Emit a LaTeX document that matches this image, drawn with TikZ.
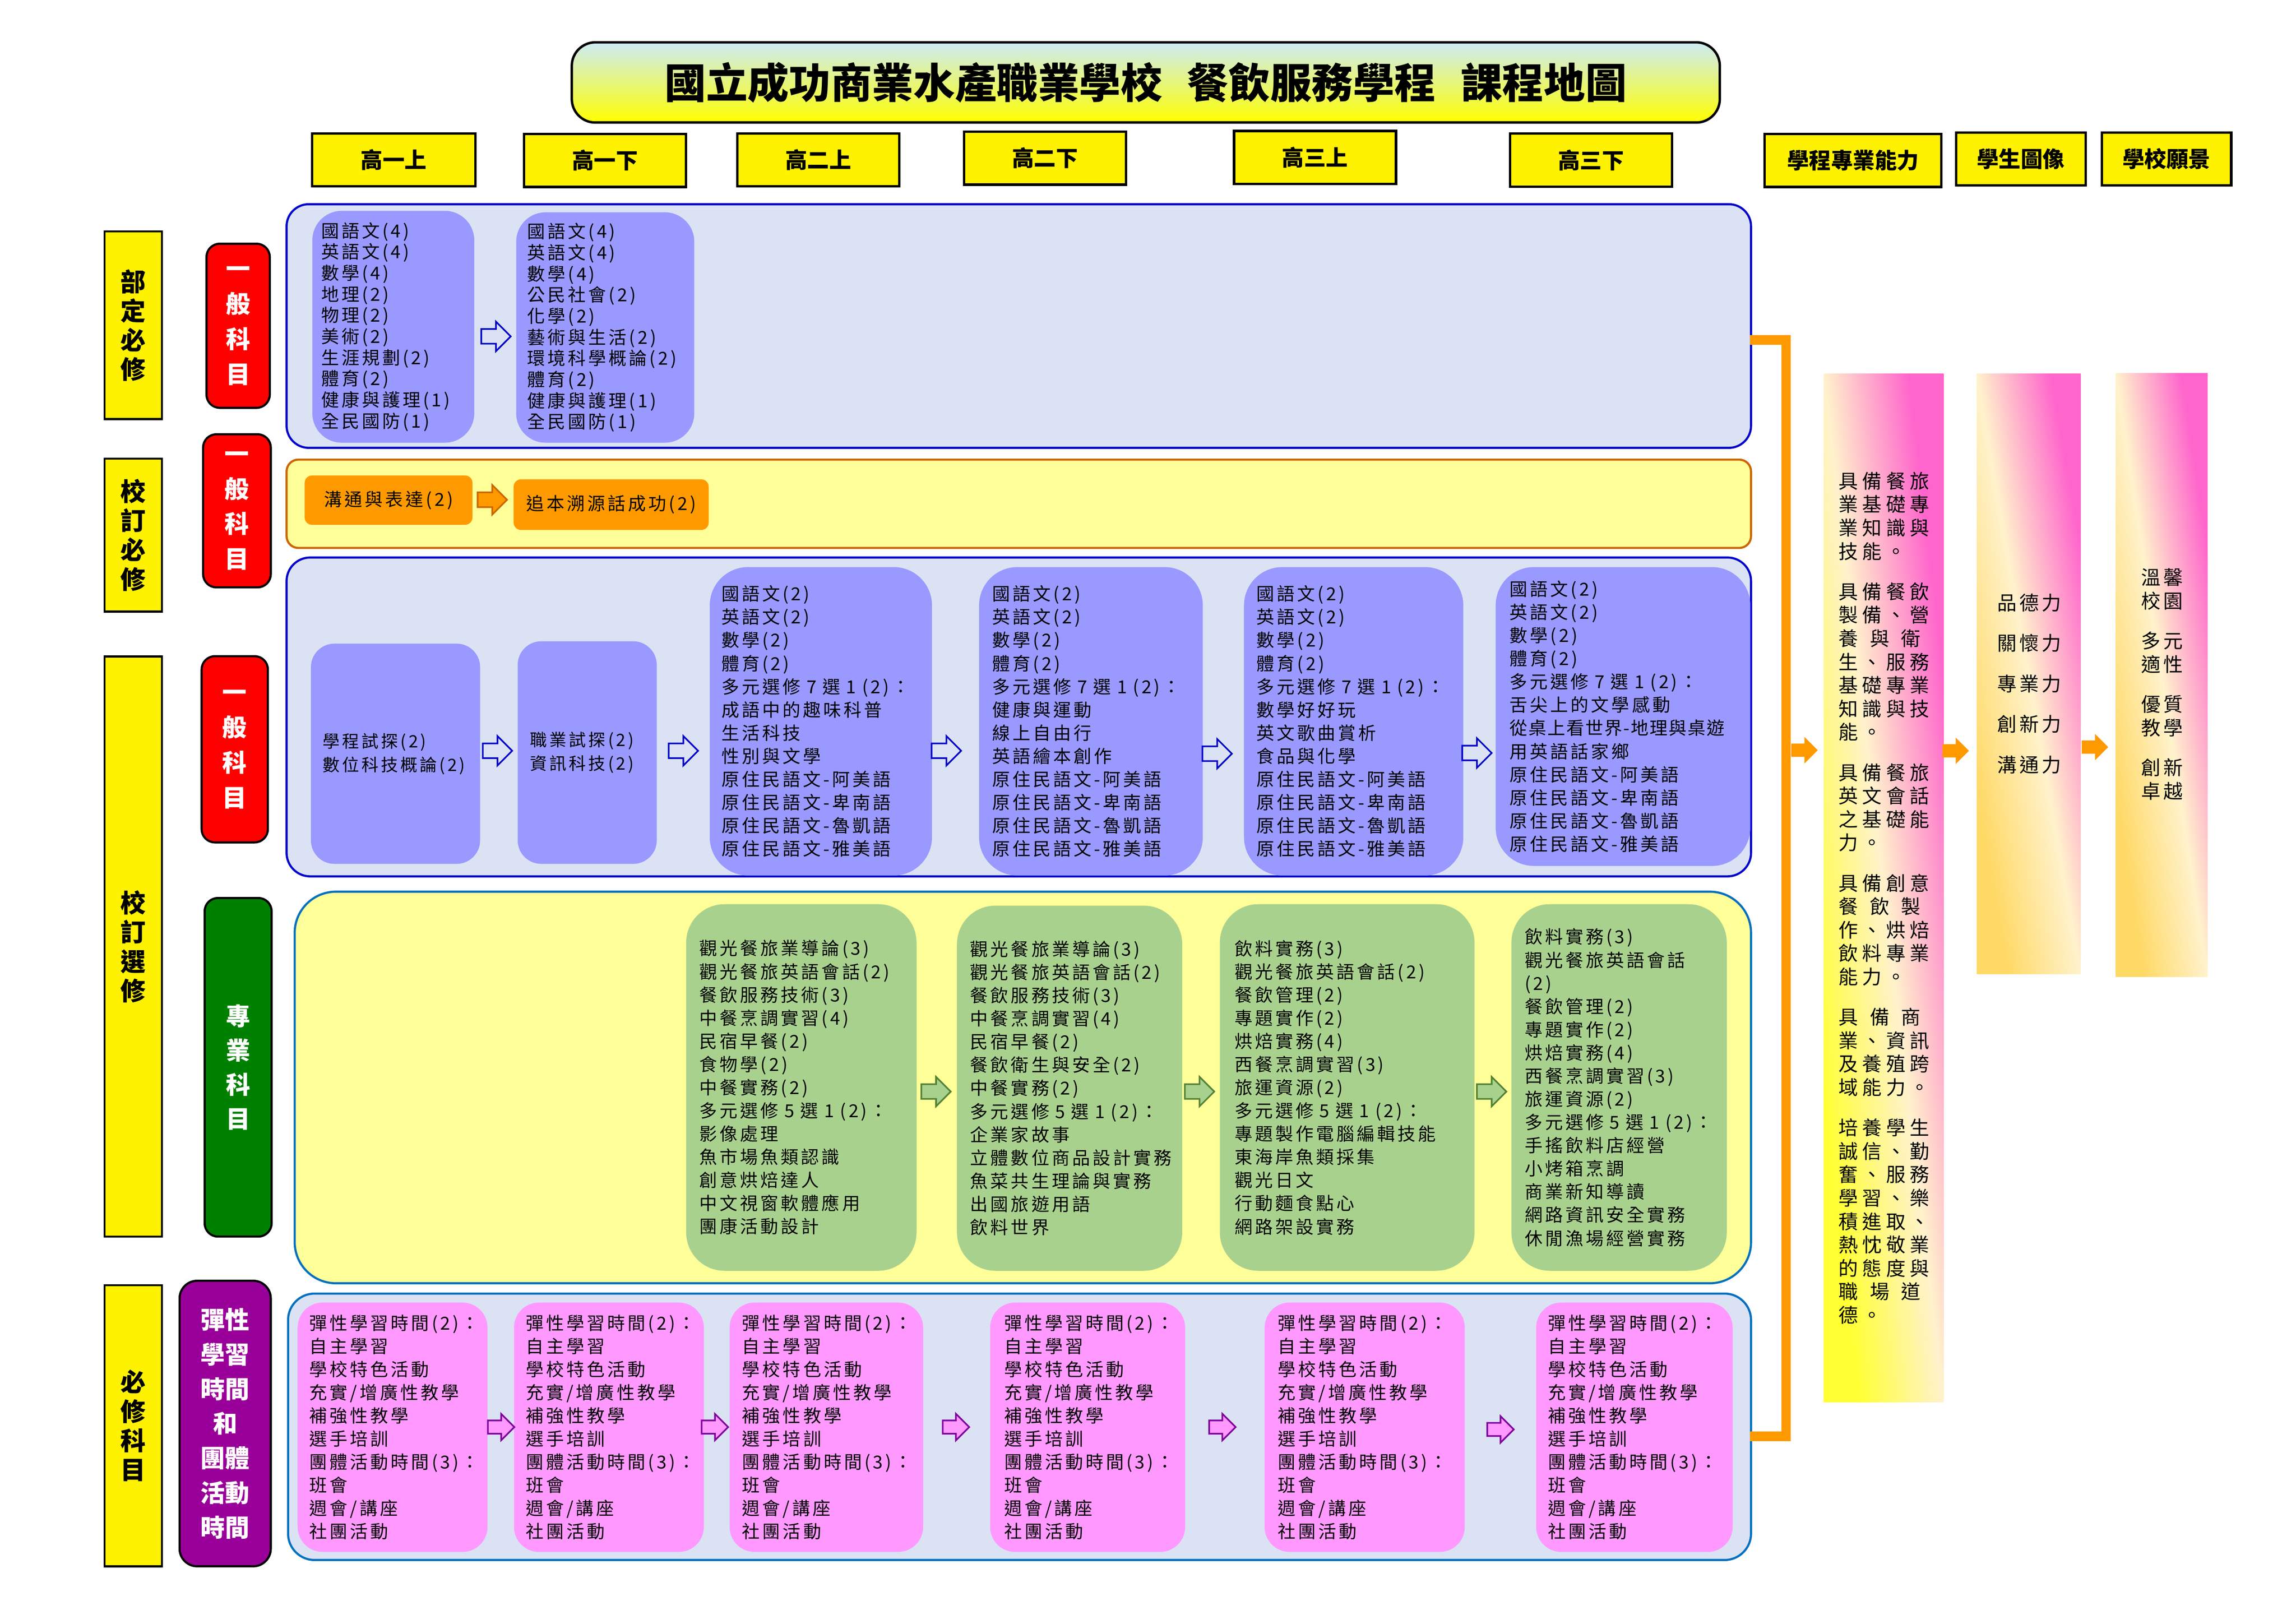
\documentclass[tikz,border=0pt]{standalone}
\usepackage{fontspec}
\setmainfont{Noto Sans CJK TC}
\newfontfamily\bodyfont[LetterSpace=14]{Noto Sans CJK TC}
\newfontfamily\colfont[LetterSpace=22]{Noto Sans CJK TC}

\definecolor{panelblue}{RGB}{219,226,244}
\definecolor{panelline}{RGB}{0,0,204}
\definecolor{panellinetwo}{RGB}{0,112,192}
\definecolor{paleyellow}{RGB}{255,255,153}
\definecolor{rowtwoline}{RGB}{204,102,0}
\definecolor{boxblue}{RGB}{153,153,255}
\definecolor{boxorange}{RGB}{255,153,0}
\definecolor{boxgreen}{RGB}{169,209,142}
\definecolor{boxpink}{RGB}{255,153,255}
\definecolor{labelred}{RGB}{255,0,0}
\definecolor{labelgreen}{RGB}{0,128,0}
\definecolor{labelpurple}{RGB}{153,0,153}
\definecolor{arrowgreen}{RGB}{84,130,53}
\definecolor{arrowpurple}{RGB}{128,0,160}
\definecolor{titlecyan}{RGB}{205,235,245}
\definecolor{gradpink}{RGB}{255,102,204}
\definecolor{gradcream}{RGB}{255,242,204}
\definecolor{gradyellow}{RGB}{255,255,51}
\definecolor{gradgold}{RGB}{255,217,102}

\newlength{\pxl}
\setlength{\pxl}{0.3181mm}
\newcommand{\hgap}{\hspace{0.61em}}
\newcommand{\nativelangs}{原住民語文-阿美語\\原住民語文-卑南語\\原住民語文-魯凱語\\原住民語文-雅美語}
\newcommand{\flexitems}{彈性學習時間(2)：\\自主學習\\學校特色活動\\充實/增廣性教學\\補強性教學\\選手培訓\\團體活動時間(3)：\\班會\\週會/講座\\社團活動}

\tikzset{
    pics/blockarrow/.style={code={
        \path[pic actions] (-10,-5) -- (0,-5) -- (0,-10) -- (10,0) -- (0,10) -- (0,5) -- (-10,5) -- cycle;
    }},
    headbox/.style={draw, line width=1.5pt, fill=yellow, inner sep=0pt, minimum height=36\pxl, font=\bfseries\fontsize{13.5}{16}\selectfont},
    catbox/.style={draw, line width=1.3pt, fill=yellow, inner sep=0pt, minimum width=39\pxl, align=center, font=\bfseries\fontsize{15.5}{18}\selectfont},
    kindbox/.style={draw, line width=1.3pt, rounded corners=9\pxl, inner sep=0pt, text=white, align=center, font=\bfseries\fontsize{15}{21.6}\selectfont},
    panel/.style={draw, line width=1.3pt, inner sep=0pt, anchor=north west},
    course/.style={anchor=north west, align=left, inner ysep=0pt, inner xsep=8\pxl, font=\bodyfont\fontsize{11}{14.25}\selectfont},
    bluecourse/.style={course, fill=boxblue, rounded corners=20\pxl},
    greencourse/.style={course, fill=boxgreen, rounded corners=26\pxl, inner xsep=9\pxl},
    pinkcourse/.style={course, fill=boxpink, rounded corners=17\pxl},
    schoolcourse/.style={fill=boxorange, rounded corners=5\pxl, inner sep=0pt, font=\bodyfont\fontsize{11}{14}\selectfont},
    bluearrow/.style={draw=panelline, fill=panelblue, line width=1pt},
    orangearrow/.style={draw=rowtwoline, fill=boxorange, line width=1pt},
    greenarrow/.style={draw=arrowgreen, fill=boxgreen, line width=1pt},
    pinkarrow/.style={draw=arrowpurple, fill=boxpink, line width=1pt},
    linkarrow/.style={fill=boxorange},
    gradfill/.style={top color=gradpink, bottom color=#1, middle color=gradcream, shading angle=-45},
    coltext/.style={align=left, inner sep=0pt, font=\colfont\fontsize{12}{14.4}\selectfont},
    bracket/.style={draw=boxorange, line width=5.9pt}
}

\begin{document}
\begin{tikzpicture}[x=0.3181mm, y=-0.3181mm]
    \useasboundingbox (0,0) rectangle (1560,1103);

    \node[draw, line width=1.5pt, rounded corners=16\pxl, top color=titlecyan, bottom color=yellow, minimum width=780\pxl, minimum height=54.5\pxl, font=\bfseries\fontsize{25.5}{30}\selectfont] (title) at (778.5,56) {國立成功商業水產職業學校\hspace{0.6em}餐飲服務學程\hspace{0.6em}課程地圖};

    \node[headbox, minimum width=111\pxl] (y1a) at (267.5,108.6) {高一上};
    \node[headbox, minimum width=110\pxl] (y1b) at (411,109) {高一下};
    \node[headbox, minimum width=110\pxl] (y2a) at (556,108.6) {高二上};
    \node[headbox, minimum width=110\pxl] (y2b) at (710,107.4) {高二下};
    \node[headbox, minimum width=110\pxl] (y3a) at (893.5,107) {高三上};
    \node[headbox, minimum width=110\pxl] (y3b) at (1081,108.8) {高三下};
    \node[headbox, minimum width=120\pxl] (ability) at (1259,109) {學程專業能力};
    \node[headbox, minimum width=88\pxl] (portrait) at (1373,108) {學生圖像};
    \node[headbox, minimum width=88\pxl] (vision) at (1472,108) {學校願景};

    \node[catbox, minimum height=127.5\pxl] (required) at (90.5,221) {部\\定\\必\\修};
    \node[catbox, minimum height=104\pxl] (schoolreq) at (90.5,363.5) {校\\訂\\必\\修};
    \node[catbox, minimum height=394\pxl] (schoolel) at (90.5,643) {校\\訂\\選\\修};
    \node[catbox, minimum height=191\pxl] (core) at (90.5,968.5) {必\\修\\科\\目};

    \node[kindbox, fill=labelred, minimum width=43\pxl, minimum height=111.5\pxl] (general1) at (161.8,221.3) {一\\般\\科\\目};
    \node[kindbox, fill=labelred, minimum width=46\pxl, minimum height=104\pxl] (general2) at (161,347) {一\\般\\科\\目};
    \node[kindbox, fill=labelred, minimum width=45\pxl, minimum height=126.5\pxl] (general3) at (159.5,509) {一\\般\\科\\目};
    \node[kindbox, fill=labelgreen, minimum width=45.5\pxl, minimum height=230\pxl, font=\bfseries\fontsize{15}{21}\selectfont] (major) at (161.8,725) {專\\業\\科\\目};
    \node[kindbox, fill=labelpurple, rounded corners=12\pxl, minimum width=62\pxl, minimum height=194\pxl, font=\bfseries\fontsize{15}{21.3}\selectfont] (flex) at (153,967) {彈性\\學習\\時間\\和\\團體\\活動\\時間};

    \node[panel, fill=panelblue, draw=panelline, rounded corners=15\pxl, minimum width=995\pxl, minimum height=165.5\pxl] (row1) at (194,138) {};
    \node[panel, fill=paleyellow, draw=rowtwoline, rounded corners=8\pxl, minimum width=995\pxl, minimum height=60\pxl] (row2) at (194,311.5) {};
    \node[panel, fill=panelblue, draw=panelline, rounded corners=16\pxl, minimum width=995\pxl, minimum height=216.6\pxl] (row3) at (194,378) {};
    \node[panel, fill=paleyellow, draw=panellinetwo, rounded corners=28\pxl, minimum width=989.5\pxl, minimum height=266\pxl] (row4) at (199.5,605) {};
    \node[panel, fill=panelblue, draw=panellinetwo, rounded corners=18\pxl, minimum width=994\pxl, minimum height=181\pxl] (row5) at (195,878) {};

    \node[bluecourse, inner xsep=6\pxl, text width=98\pxl, minimum height=157.5\pxl, font=\bodyfont\fontsize{11}{13}\selectfont] (base1a) at (212,143) {國語文(4)\\英語文(4)\\數學(4)\\地理(2)\\物理(2)\\美術(2)\\生涯規劃(2)\\體育(2)\\健康與護理(1)\\全民國防(1)};
    \node[bluecourse, inner xsep=7.5\pxl, text width=106\pxl, minimum height=156.5\pxl, font=\bodyfont\fontsize{11}{13}\selectfont] (base1b) at (350.5,144) {國語文(4)\\英語文(4)\\數學(4)\\公民社會(2)\\化學(2)\\藝術與生活(2)\\環境科學概論(2)\\體育(2)\\健康與護理(1)\\全民國防(1)};
    \pic[bluearrow] at (337,228.5) {blockarrow};

    \node[schoolcourse, minimum width=114\pxl, minimum height=33.5\pxl] (talk) at (264,339.75) {溝通與表達(2)};
    \node[schoolcourse, minimum width=132.5\pxl, minimum height=34.4\pxl] (roots) at (415.25,342.8) {追本溯源話成功(2)};
    \pic[orangearrow] at (334.5,339.5) {blockarrow};

    \node[bluecourse, rounded corners=16\pxl, text width=99\pxl, minimum height=149.6\pxl, font=\bodyfont\fontsize{10.5}{14.5}\selectfont] (gen1a) at (211,437) {學程試探(2)\\數位科技概論(2)};
    \node[bluecourse, rounded corners=16\pxl, inner xsep=8.5\pxl, text width=77.5\pxl, minimum height=151.2\pxl, font=\bodyfont\fontsize{10.5}{14.5}\selectfont] (gen1b) at (351.5,435.4) {職業試探(2)\\資訊科技(2)};
    \node[bluecourse, rounded corners=26\pxl, text width=135\pxl, minimum height=209.5\pxl] (gen2a) at (482,385) {國語文(2)\\英語文(2)\\數學(2)\\體育(2)\\多元選修 7 選 1 (2)：\\成語中的趣味科普\\生活科技\\性別與文學\\\nativelangs};
    \node[bluecourse, rounded corners=26\pxl, inner xsep=9\pxl, text width=134\pxl, minimum height=209.5\pxl] (gen2b) at (665,385) {國語文(2)\\英語文(2)\\數學(2)\\體育(2)\\多元選修 7 選 1 (2)：\\健康與運動\\線上自由行\\英語繪本創作\\\nativelangs};
    \node[bluecourse, rounded corners=26\pxl, inner xsep=8.5\pxl, text width=132\pxl, minimum height=209.5\pxl] (gen3a) at (845,385) {國語文(2)\\英語文(2)\\數學(2)\\體育(2)\\多元選修 7 選 1 (2)：\\數學好好玩\\英文歌曲賞析\\食品與化學\\\nativelangs};
    \node[bluecourse, rounded corners=26\pxl, inner xsep=9.5\pxl, text width=154\pxl, minimum height=203\pxl] (gen3b) at (1016,385) {國語文(2)\\英語文(2)\\數學(2)\\體育(2)\\多元選修 7 選 1 (2)：\\舌尖上的文學感動\\{\addfontfeature{LetterSpace=6}從桌上看世界-地理與桌遊}\\用英語話家鄉\\\nativelangs};
    \pic[bluearrow] at (338,510) {blockarrow};
    \pic[bluearrow] at (464.3,510) {blockarrow};
    \pic[bluearrow] at (643,510) {blockarrow};
    \pic[bluearrow] at (827,512) {blockarrow};
    \pic[bluearrow] at (1003.5,511.5) {blockarrow};

    \node[greencourse, text width=138.5\pxl, minimum height=249\pxl] (pro2a) at (466,614) {觀光餐旅業導論(3)\\觀光餐旅英語會話(2)\\餐飲服務技術(3)\\中餐烹調實習(4)\\民宿早餐(2)\\食物學(2)\\中餐實務(2)\\多元選修 5 選 1 (2)：\\影像處理\\魚市場魚類認識\\創意烘焙達人\\中文視窗軟體應用\\團康活動設計};
    \node[greencourse, text width=135\pxl, minimum height=248\pxl] (pro2b) at (650,615) {觀光餐旅業導論(3)\\觀光餐旅英語會話(2)\\餐飲服務技術(3)\\中餐烹調實習(4)\\民宿早餐(2)\\餐飲衛生與安全(2)\\中餐實務(2)\\多元選修 5 選 1 (2)：\\企業家故事\\立體數位商品設計實務\\魚菜共生理論與實務\\出國旅遊用語\\飲料世界};
    \node[greencourse, inner xsep=10\pxl, text width=153\pxl, minimum height=249\pxl] (pro3a) at (828.6,614) {飲料實務(3)\\觀光餐旅英語會話(2)\\餐飲管理(2)\\專題實作(2)\\烘焙實務(4)\\西餐烹調實習(3)\\旅運資源(2)\\多元選修 5 選 1 (2)：\\專題製作電腦編輯技能\\東海岸魚類採集\\觀光日文\\行動麵食點心\\網路架設實務};
    \node[greencourse, text width=128.3\pxl, minimum height=249\pxl] (pro3b) at (1026.7,614) {飲料實務(3)\\觀光餐旅英語會話\\(2)\\餐飲管理(2)\\專題實作(2)\\烘焙實務(4)\\西餐烹調實習(3)\\旅運資源(2)\\多元選修 5 選 1 (2)：\\手搖飲料店經營\\小烤箱烹調\\商業新知導讀\\網路資訊安全實務\\休閒漁場經營實務};
    \pic[greenarrow] at (636,741.5) {blockarrow};
    \pic[greenarrow] at (815,741.5) {blockarrow};
    \pic[greenarrow] at (1013.5,741.5) {blockarrow};

    \node[pinkcourse, text width=113\pxl, minimum height=169.4\pxl] (flex1a) at (202,884.6) {\flexitems};
    \node[pinkcourse, text width=113\pxl, minimum height=169.4\pxl] (flex1b) at (349,884.6) {\flexitems};
    \node[pinkcourse, inner xsep=8.5\pxl, text width=114.5\pxl, minimum height=169.4\pxl] (flex2a) at (495.5,884.6) {\flexitems};
    \node[pinkcourse, inner xsep=9.5\pxl, text width=113.5\pxl, minimum height=169.4\pxl] (flex2b) at (672.5,884.6) {\flexitems};
    \node[pinkcourse, inner xsep=9\pxl, text width=118\pxl, minimum height=169.4\pxl] (flex3a) at (859,884.6) {\flexitems};
    \node[pinkcourse, text width=117.5\pxl, minimum height=169.4\pxl] (flex3b) at (1043.5,884.6) {\flexitems};
    \pic[pinkarrow, scale=0.9] at (340.5,969.4) {blockarrow};
    \pic[pinkarrow, scale=0.9] at (485.75,969.4) {blockarrow};
    \pic[pinkarrow, scale=0.9] at (649.5,969.4) {blockarrow};
    \pic[pinkarrow, scale=0.9] at (830.5,969.4) {blockarrow};
    \pic[pinkarrow, scale=0.9] at (1019.5,971) {blockarrow};

    \coordinate (brtop) at (1189,231);
    \coordinate (brbot) at (1189,975.6);
    \draw[bracket] (brtop) -- ++(24.5,0) |- (brbot);

    \begin{scope}[transform canvas={shift={(1239,254)}, xscale=0.815, yscale=6.985}]
        \shade[gradfill=gradyellow] (0,0) rectangle (100,100);
    \end{scope}
    \begin{scope}[transform canvas={shift={(1343,254)}, xscale=0.707, yscale=4.075}]
        \shade[gradfill=gradgold] (0,0) rectangle (100,100);
    \end{scope}
    \begin{scope}[transform canvas={shift={(1437.6,253.5)}, xscale=0.624, yscale=4.1}]
        \shade[gradfill=gradgold] (0,0) rectangle (100,100);
    \end{scope}

    \node[coltext] (abilitytext) at (1280,610) {具備餐旅\\業基礎專\\業知識與\\技能。\\[10.4pt]
        具備餐飲\\製備、營\\養\hgap 與\hgap 衛\\生、服務\\基礎專業\\知識與技\\能。\\[10.4pt]
        具備餐旅\\英文會話\\之基礎能\\力。\\[10.4pt]
        具備創意\\餐\hgap 飲\hgap 製\\作、烘焙\\飲料專業\\能力。\\[10.4pt]
        具\hgap 備\hgap 商\\業、資訊\\及養殖跨\\域能力。\\[10.4pt]
        培養學生\\誠信、勤\\奮、服務\\學習、樂\\積進取、\\熱忱敬業\\的態度與\\職\hgap 場\hgap 道\\德。};
    \node[align=left, inner sep=0pt, font=\bodyfont\fontsize{12}{24.9}\selectfont] (portraittext) at (1378.7,464.4) {品德力\\關懷力\\專業力\\創新力\\溝通力};
    \node[align=left, inner sep=0pt, font=\bodyfont\fontsize{12}{14.5}\selectfont] (visiontext) at (1469,464.8) {溫馨\\校園\\[10pt]多元\\適性\\[10pt]優質\\教學\\[10pt]創新\\卓越};

    \pic[linkarrow, scale=0.9] at (1226,509.6) {blockarrow};
    \pic[linkarrow, scale=0.9] at (1328.75,510) {blockarrow};
    \pic[linkarrow, scale=0.9] at (1423.4,507.5) {blockarrow};
\end{tikzpicture}
\end{document}
